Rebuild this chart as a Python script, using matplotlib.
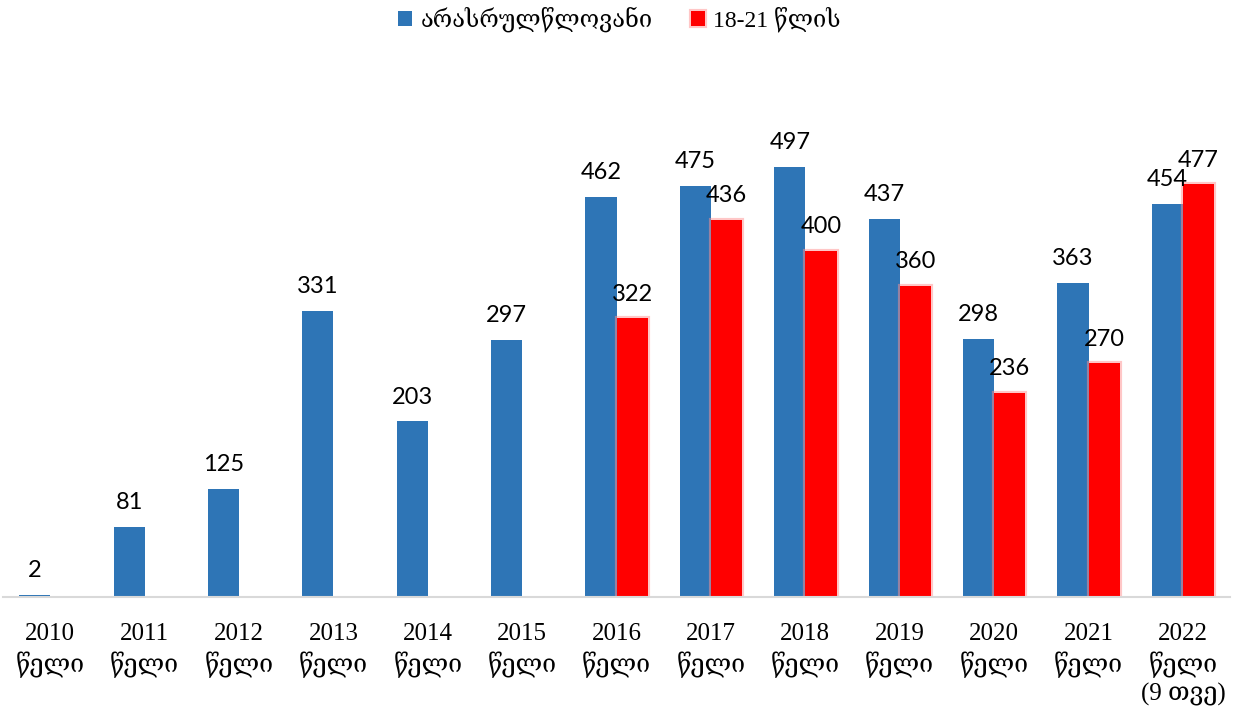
import matplotlib
matplotlib.use("Agg")
import matplotlib.pyplot as plt
import matplotlib.patheffects as pe
import numpy as np

years = ["2010", "2011", "2012", "2013", "2014", "2015", "2016",
         "2017", "2018", "2019", "2020", "2021", "2022"]
tick_labels = [f"{y}\nწელი" for y in years[:-1]] + ["2022\nწელი\n(9 თვე)"]
minors = [2, 81, 125, 331, 203, 297, 462, 475, 497, 437, 298, 363, 454]
young = [None, None, None, None, None, None, 322, 436, 400, 360, 236, 270, 477]

BLUE = "#2E75B6"
RED = "#FF0000"
SERIF = ["Liberation Serif", "DejaVu Serif"]

fig = plt.figure(figsize=(12.39, 7.19), dpi=100)
ax = fig.add_axes([0.0025, 0.1697, 0.9903, 0.7218])

x = np.arange(len(years))
w = 0.33
ax.bar(x - w / 2, minors, w, color=BLUE, label="არასრულწლოვანი", zorder=2)
yx = [i for i, v in enumerate(young) if v is not None]
yv = [v for v in young if v is not None]
red_bars = ax.bar(np.array(yx) + w / 2, yv, w, color=RED, label="18-21 წლის", zorder=2)
# soft glow round the red bars, like the original
for b in red_bars:
    b.set_path_effects([pe.withStroke(linewidth=3, foreground="#FF9090", alpha=0.5)])

# value labels above bars
for i, v in enumerate(minors):
    ax.annotate(str(v), (i - w / 2, v), xytext=(0, 10), textcoords="offset points",
                ha="center", va="bottom", fontsize=17, family="Lato")
for i, v in zip(yx, yv):
    ax.annotate(str(v), (i + w / 2, v), xytext=(0, 10), textcoords="offset points",
                ha="center", va="bottom", fontsize=17, family="Lato")

ax.set_xlim(-0.5, len(years) - 0.5)
ax.set_ylim(0, 600)
ax.set_yticks([])
ax.set_xticks(x)
ax.set_xticklabels(tick_labels, family=SERIF, fontsize=18, linespacing=1.28)
ax.tick_params(axis="x", length=0, pad=19)
for s in ["top", "right", "left"]:
    ax.spines[s].set_visible(False)
ax.spines["bottom"].set_color("#D9D9D9")
ax.spines["bottom"].set_linewidth(1.5)

fig.legend(loc="upper center", bbox_to_anchor=(0.5, 1.02), ncol=2, frameon=False,
           prop={"family": SERIF, "size": 17}, handlelength=0.6, handleheight=0.6,
           handletextpad=0.35, columnspacing=1.6)

fig.savefig("out.png", dpi=100)
